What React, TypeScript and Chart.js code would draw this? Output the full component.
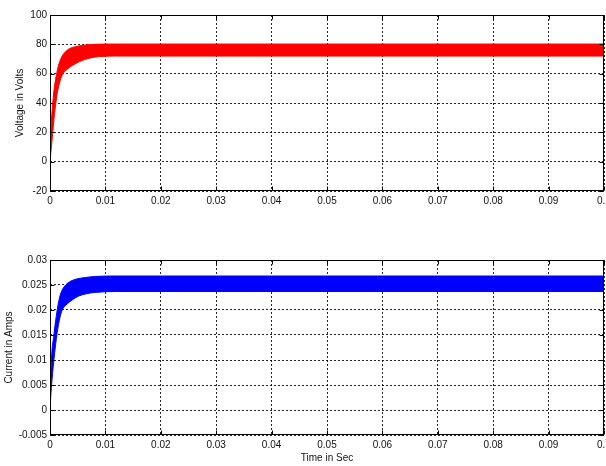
import React, { useEffect, useRef } from "react";
import { Chart, registerables } from "chart.js";

Chart.register(...registerables);

// ---- Data ----
// Voltage ripple band: upper and lower envelopes of the trace
const timeV = [0, 0.00015, 0.0005, 0.0008, 0.0012, 0.0016, 0.0022, 0.0031, 0.004, 0.0052, 0.0064, 0.008, 0.012, 0.1];
const vUpper = [0, 20, 40, 51, 60, 66.5, 72, 76, 77.8, 78.9, 79.6, 80, 80.2, 80.2];
const vLower = [0, 6, 20, 32, 44, 52, 59, 63, 65.5, 68, 69.8, 71.2, 72, 72];

// Current ripple band: upper and lower envelopes of the trace
const timeI = [0, 0.0001, 0.00025, 0.0007, 0.0013, 0.0018, 0.0022, 0.0031, 0.004, 0.0052, 0.0064, 0.008, 0.012, 0.1];
const iUpper = [0, 0.005, 0.01, 0.015, 0.02, 0.0228, 0.024, 0.0253, 0.0259, 0.0263, 0.0265, 0.0267, 0.0268, 0.0268];
const iLower = [0, 0.002, 0.0045, 0.01, 0.0155, 0.0185, 0.02, 0.0212, 0.022, 0.0228, 0.0232, 0.0235, 0.0237, 0.0237];

const xTicks = [0, 0.01, 0.02, 0.03, 0.04, 0.05, 0.06, 0.07, 0.08, 0.09, 0.1];
const xTickLabels = ["0", "0.01", "0.02", "0.03", "0.04", "0.05", "0.06", "0.07", "0.08", "0.09", "0.1"];
const vTicks = [-20, 0, 20, 40, 60, 80, 100];
const vTickLabels = ["-20", "0", "20", "40", "60", "80", "100"];
const iTicks = [-0.005, 0, 0.005, 0.01, 0.015, 0.02, 0.025, 0.03];
const iTickLabels = ["-0.005", "0", "0.005", "0.01", "0.015", "0.02", "0.025", "0.03"];

const FONT_FAMILY = "'Liberation Sans', Arial, Helvetica, sans-serif";
const TEXT_COLOR = "#111";

const boxPlugin = {
  id: "matlabBox",
  afterDraw(chart: any) {
    const { ctx, chartArea: a, scales } = chart;
    const L = Math.round(a.left) + 0.5;
    const R = Math.round(a.right) - 0.5;
    const T = Math.round(a.top) + 0.5;
    const B = Math.round(a.bottom) - 0.5;
    ctx.save();
    ctx.strokeStyle = "#000";
    ctx.lineWidth = 1;
    ctx.setLineDash([]);
    ctx.strokeRect(L, T, R - L, B - T);
    const tl = 4;
    ctx.beginPath();
    scales.x.ticks.forEach((t: any) => {
      const px = Math.round(scales.x.getPixelForValue(t.value)) + 0.5;
      ctx.moveTo(px, B);
      ctx.lineTo(px, B - tl);
      ctx.moveTo(px, T);
      ctx.lineTo(px, T + tl);
    });
    scales.y.ticks.forEach((t: any) => {
      const py = Math.round(scales.y.getPixelForValue(t.value)) + 0.5;
      ctx.moveTo(L, py);
      ctx.lineTo(L + tl, py);
      ctx.moveTo(R, py);
      ctx.lineTo(R - tl, py);
    });
    ctx.stroke();
    ctx.restore();
  },
};

type PanelProps = {
  times: number[];
  upper: number[];
  lower: number[];
  color: string;
  yMin: number;
  yMax: number;
  yTicks: number[];
  yTickLabels: string[];
  yTitle: string;
  yTitlePad: number;
  xTitle: string | null;
  padTop: number;
  xAxisHeight: number;
  top: number;
};

function Panel(p: PanelProps) {
  const ref = useRef<HTMLCanvasElement | null>(null);
  useEffect(() => {
    if (!ref.current) return;
    const font = { family: FONT_FAMILY, size: 10 };
    const chart = new Chart(ref.current, {
      type: "line",
      data: {
        datasets: [
          {
            data: p.times.map((t, i) => ({ x: t, y: p.upper[i] })),
            borderColor: p.color,
            backgroundColor: p.color,
            borderWidth: 1,
            pointRadius: 0,
            cubicInterpolationMode: "monotone",
            fill: "+1",
          },
          {
            data: p.times.map((t, i) => ({ x: t, y: p.lower[i] })),
            borderColor: p.color,
            backgroundColor: p.color,
            borderWidth: 1,
            pointRadius: 0,
            cubicInterpolationMode: "monotone",
            fill: false,
          },
        ],
      },
      options: {
        animation: false,
        responsive: false,
        events: [],
        layout: { padding: { top: p.padTop, right: 2, bottom: 0, left: 0 } },
        plugins: { legend: { display: false }, tooltip: { enabled: false } },
        scales: {
          x: {
            type: "linear",
            min: 0,
            max: 0.1,
            afterBuildTicks: (s: any) => {
              s.ticks = xTicks.map((v) => ({ value: v }));
            },
            afterFit: (s: any) => {
              s.height = p.xAxisHeight;
              s.paddingLeft = 0;
              s.paddingRight = 0;
            },
            ticks: {
              callback: (_v: any, i: number) => xTickLabels[i],
              font,
              color: TEXT_COLOR,
              padding: 4,
              maxRotation: 0,
              autoSkip: false,
            },
            grid: { color: "rgba(0,0,0,0.85)", lineWidth: 1, drawTicks: false },
            border: { display: false, dash: [2, 2] },
            title: {
              display: !!p.xTitle,
              text: p.xTitle || "",
              font,
              color: TEXT_COLOR,
              padding: { top: 0, bottom: 2 },
            },
          },
          y: {
            type: "linear",
            min: p.yMin,
            max: p.yMax,
            afterBuildTicks: (s: any) => {
              s.ticks = p.yTicks.map((v) => ({ value: v }));
            },
            afterFit: (s: any) => {
              s.width = 50;
              s.paddingTop = 0;
              s.paddingBottom = 0;
            },
            ticks: {
              callback: (_v: any, i: number) => p.yTickLabels[i],
              font,
              color: TEXT_COLOR,
              padding: 3,
              autoSkip: false,
            },
            grid: { color: "rgba(0,0,0,0.85)", lineWidth: 1, drawTicks: false },
            border: { display: false, dash: [2, 2] },
            title: {
              display: true,
              text: p.yTitle,
              font,
              color: TEXT_COLOR,
              padding: { top: p.yTitlePad, bottom: 0 },
            },
          },
        },
      },
      plugins: [boxPlugin],
    } as any);
    return () => chart.destroy();
  }, []);
  return (
    <canvas
      ref={ref}
      width={606}
      height={233}
      style={{ position: "absolute", left: 0, top: p.top, width: 606, height: 233, display: "block" }}
    />
  );
}

export default function App() {
  return (
    <div style={{ position: "absolute", left: 0, top: 0, width: 606, height: 466, background: "#fff" }}>
      <Panel
        times={timeV}
        upper={vUpper}
        lower={vLower}
        color="#ff0000"
        yMin={-20}
        yMax={100}
        yTicks={vTicks}
        yTickLabels={vTickLabels}
        yTitle="Voltage in Volts"
        yTitlePad={14.5}
        xTitle={null}
        padTop={15}
        xAxisHeight={42}
        top={0}
      />
      <Panel
        times={timeI}
        upper={iUpper}
        lower={iLower}
        color="#0000ff"
        yMin={-0.005}
        yMax={0.03}
        yTicks={iTicks}
        yTickLabels={iTickLabels}
        yTitle="Current in Amps"
        yTitlePad={3}
        xTitle="Time in Sec"
        padTop={27}
        xAxisHeight={31}
        top={233}
      />
    </div>
  );
}
